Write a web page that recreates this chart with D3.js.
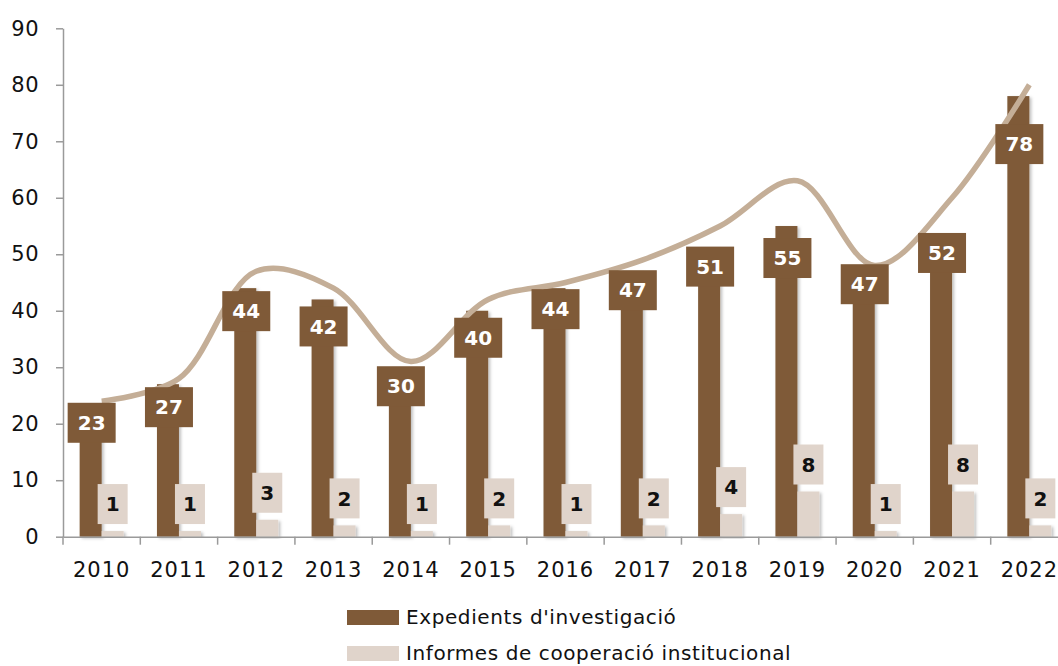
<!DOCTYPE html>
<html>
<head>
<meta charset="utf-8">
<script src="https://cdn.jsdelivr.net/npm/d3@7"></script>
<style>
  body { margin: 0; background: #fff; }
  svg text { font-family: "DejaVu Sans", "Open Sans", sans-serif; }
</style>
</head>
<body>
<div id="chart"></div>
<script>
// data
const years = ["2010","2011","2012","2013","2014","2015","2016","2017","2018","2019","2020","2021","2022"];
const expedients = [23, 27, 44, 42, 30, 40, 44, 47, 51, 55, 47, 52, 78];
const informes = [1, 1, 3, 2, 1, 2, 1, 2, 4, 8, 1, 8, 2];
const totals = [24, 28, 47, 44, 31, 42, 45, 49, 55, 63, 48, 60, 80];
const yTicks = [0, 10, 20, 30, 40, 50, 60, 70, 80, 90];
const seriesNames = ["Expedients d'investigació", "Informes de cooperació institucional"];

// label nudges (px below bar top), hand placed like the original
const labelNudge = [16, 23, 23, 27, 19, 27, 21, 19, 18, 32, 13, 10, 48];

const W = 1058, H = 666;
const brown = "#7f5a38", light = "#e0d4cb", lineCol = "#c4ae97";

const svg = d3.select("#chart").append("svg")
  .attr("width", W)
  .attr("height", H);

const defs = svg.append("defs");
defs.append("filter").attr("id", "shadow")
  .attr("x", "-20%").attr("y", "-5%").attr("width", "150%").attr("height", "115%")
  .append("feDropShadow")
  .attr("dx", 2).attr("dy", 1.5).attr("stdDeviation", 1.5)
  .attr("flood-color", "#000").attr("flood-opacity", 0.25);

const x = d3.scaleBand().domain(years).range([63, 1068]).padding(0);
const y = d3.scaleLinear().domain([0, 90]).range([536.7, 28.3]);
const pairW = 44;
const inner = d3.scaleBand().domain(["a", "b"]).range([0, pairW]);
const off = (x.bandwidth() - pairW) / 2;

// axes
const yAxis = d3.axisLeft(y).tickValues(yTicks).tickSize(7).tickSizeOuter(0).tickPadding(17);
const gy = svg.append("g").attr("transform", "translate(63,0)").call(yAxis);
gy.select(".domain").attr("stroke", "#9a9a9a").attr("stroke-width", 1.5);
gy.selectAll(".tick line").attr("stroke", "#9a9a9a").attr("stroke-width", 1.5);
gy.selectAll(".tick text").attr("font-size", 21).attr("fill", "#111")
  .attr("font-family", "'DejaVu Sans', sans-serif")
  .attr("letter-spacing", 0.5);

// bars
const g = svg.append("g");
g.selectAll("rect.exp").data(expedients).enter().append("rect")
  .attr("class", "exp")
  .attr("x", (d, i) => x(years[i]) + off + inner("a"))
  .attr("y", d => y(d))
  .attr("width", inner.bandwidth())
  .attr("height", d => y(0) - y(d))
  .attr("fill", brown)
  .attr("filter", "url(#shadow)");

g.selectAll("rect.inf").data(informes).enter().append("rect")
  .attr("class", "inf")
  .attr("x", (d, i) => x(years[i]) + off + inner("b"))
  .attr("y", d => y(d))
  .attr("width", inner.bandwidth())
  .attr("height", d => y(0) - y(d))
  .attr("fill", light)
  .attr("filter", "url(#shadow)");

// x axis
const xAxis = d3.axisBottom(x).tickSize(0).tickPadding(25).tickSizeOuter(0);
const gx = svg.append("g").attr("transform", "translate(0," + y(0) + ")").call(xAxis);
gx.select(".domain").attr("stroke", "#9a9a9a").attr("stroke-width", 1.5);
gx.selectAll(".tick text").attr("font-size", 21).attr("fill", "#111")
  .attr("font-family", "'DejaVu Sans', sans-serif")
  .attr("letter-spacing", 1);
// ticks between the categories
gx.selectAll("line.sep").data(years).enter().append("line")
  .attr("class", "sep")
  .attr("x1", d => x(d)).attr("x2", d => x(d))
  .attr("y1", 0).attr("y2", 8)
  .attr("stroke", "#9a9a9a").attr("stroke-width", 1.5);

// total line
const line = d3.line()
  .x((d, i) => x(years[i]) + x.bandwidth() / 2)
  .y(d => y(d))
  .curve(d3.curveCatmullRom.alpha(0.5));
svg.append("path")
  .datum(totals)
  .attr("d", line)
  .attr("fill", "none")
  .attr("stroke", lineCol)
  .attr("stroke-width", 5.5);

// labels for expedients
const el = svg.append("g").selectAll("g").data(expedients).enter().append("g")
  .attr("transform", (d, i) => "translate(" + (x(years[i]) + off + inner("a") + inner.bandwidth() / 2 + 1) + "," + (y(d) + labelNudge[i]) + ")");
el.append("rect")
  .attr("x", -24).attr("y", -20).attr("width", 48).attr("height", 40)
  .attr("fill", brown);
el.append("text")
  .attr("text-anchor", "middle")
  .attr("dy", "0.36em")
  .attr("font-size", 20).attr("font-weight", 700)
  .attr("fill", "#fff")
  .text(d => d);

// labels for informes
const il = svg.append("g").selectAll("g").data(informes).enter().append("g")
  .attr("transform", (d, i) => "translate(" + (x(years[i]) + off + inner("b") + inner.bandwidth() / 2) + "," + (y(d) - 27) + ")");
il.append("rect")
  .attr("x", -15).attr("y", -20).attr("width", 30).attr("height", 40)
  .attr("fill", light);
il.append("text")
  .attr("text-anchor", "middle")
  .attr("dy", "0.36em")
  .attr("font-size", 20).attr("font-weight", 700)
  .attr("font-family", "'Liberation Sans', Arial, sans-serif")
  .attr("fill", "#111")
  .text(d => d);

// legend
const lg = svg.append("g").selectAll("g").data(seriesNames).enter().append("g")
  .attr("transform", (d, i) => "translate(347," + (610 + i * 36) + ")");
lg.append("rect")
  .attr("width", 52).attr("height", 15)
  .attr("fill", (d, i) => i === 0 ? brown : light);
lg.append("text")
  .attr("x", 59).attr("y", 14)
  .attr("font-size", 20).attr("fill", "#111")
  .attr("letter-spacing", 0.6)
  .text(d => d);
</script>
</body>
</html>
